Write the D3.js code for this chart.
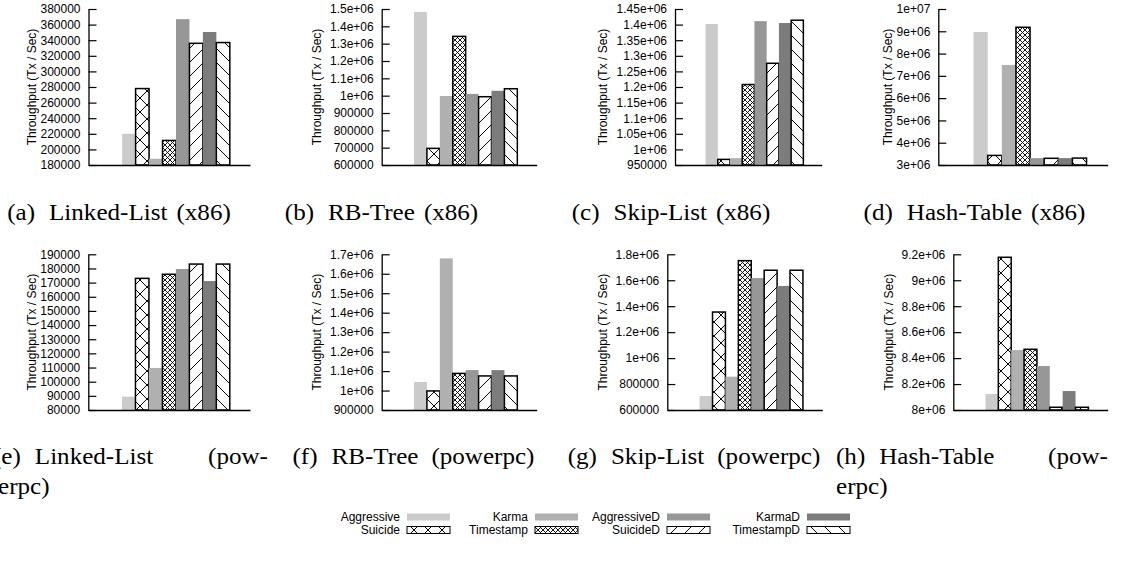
<!DOCTYPE html>
<html>
<head>
<meta charset="utf-8">
<script src="https://cdn.jsdelivr.net/npm/d3@7"></script>
<style>
  body { margin: 0; background: #fff; }
  svg { display: block; }
</style>
</head>
<body>
<script>
var series = ["Aggressive", "Suicide", "Karma", "Timestamp", "AggressiveD", "SuicideD", "KarmaD", "TimestampD"];

var linkedListX86 = [220000, 278000, 188000, 211500, 367000, 336000, 350500, 337000];
var rbTreeX86 = [1483000, 696000, 998000, 1342000, 1010000, 994000, 1028000, 1040000];
var skipListX86 = [1402000, 968000, 972000, 1208000, 1411000, 1276000, 1405000, 1414000];
var hashTableX86 = [8970000, 3430000, 7490000, 9180000, 3310000, 3300000, 3310000, 3310000];
var linkedListPpc = [89400, 173000, 109700, 175900, 179600, 183100, 171100, 183100];
var rbTreePpc = [1044000, 998000, 1679000, 1088000, 1105000, 1075000, 1105000, 1075000];
var skipListPpc = [708000, 1355000, 857000, 1751000, 1617000, 1677000, 1556000, 1677000];
var hashTablePpc = [8123000, 9177000, 8462000, 8468000, 8339000, 8021000, 8146000, 8021000];

var ticksA = ["180000", "200000", "220000", "240000", "260000", "280000", "300000", "320000", "340000", "360000", "380000"];
var ticksB = ["600000", "700000", "800000", "900000", "1e+06", "1.1e+06", "1.2e+06", "1.3e+06", "1.4e+06", "1.5e+06"];
var ticksC = ["950000", "1e+06", "1.05e+06", "1.1e+06", "1.15e+06", "1.2e+06", "1.25e+06", "1.3e+06", "1.35e+06", "1.4e+06", "1.45e+06"];
var ticksD = ["3e+06", "4e+06", "5e+06", "6e+06", "7e+06", "8e+06", "9e+06", "1e+07"];
var ticksE = ["80000", "90000", "100000", "110000", "120000", "130000", "140000", "150000", "160000", "170000", "180000", "190000"];
var ticksF = ["900000", "1e+06", "1.1e+06", "1.2e+06", "1.3e+06", "1.4e+06", "1.5e+06", "1.6e+06", "1.7e+06"];
var ticksG = ["600000", "800000", "1e+06", "1.2e+06", "1.4e+06", "1.6e+06", "1.8e+06"];
var ticksH = ["8e+06", "8.2e+06", "8.4e+06", "8.6e+06", "8.8e+06", "9e+06", "9.2e+06"];

var yTitle = "Throughput (Tx / Sec)";

var captionA = ["(a)", "Linked-List", "(x86)"];
var captionB = ["(b)", "RB-Tree", "(x86)"];
var captionC = ["(c)", "Skip-List", "(x86)"];
var captionD = ["(d)", "Hash-Table", "(x86)"];
var captionE = ["(e)", "Linked-List", "(pow-"];
var captionF = ["(f)", "RB-Tree", "(powerpc)"];
var captionG = ["(g)", "Skip-List", "(powerpc)"];
var captionH = ["(h)", "Hash-Table", "(pow-"];
var captionTail = "erpc)";

var panels = [
    { values: linkedListX86, ticks: ticksA },
    { values: rbTreeX86, ticks: ticksB },
    { values: skipListX86, ticks: ticksC },
    { values: hashTableX86, ticks: ticksD },
    { values: linkedListPpc, ticks: ticksE },
    { values: rbTreePpc, ticks: ticksF },
    { values: skipListPpc, ticks: ticksG },
    { values: hashTablePpc, ticks: ticksH }
];

var boxes = [
    { x0: 88.5, x1: 250, y0: 9, y1: 165, tx: 32 },
    { x0: 381.7, x1: 536.7, y0: 9, y1: 165, tx: 317 },
    { x0: 675, x1: 821.7, y0: 9, y1: 165, tx: 603 },
    { x0: 938.3, x1: 1107.7, y0: 9, y1: 165, tx: 888 },
    { x0: 88.3, x1: 250, y0: 254.3, y1: 410, tx: 32 },
    { x0: 381.7, x1: 536.7, y0: 254.3, y1: 410, tx: 317 },
    { x0: 667.3, x1: 822.3, y0: 254.3, y1: 410, tx: 603 },
    { x0: 953.3, x1: 1107.7, y0: 254.3, y1: 410, tx: 889 }
];

// caption lines: centred on cx, or justified between x0 and x1
var captionLines = [
    { words: captionA, cx: 119, y: 220, gap: 9 },
    { words: captionB, cx: 381.5, y: 220, gap: 9 },
    { words: captionC, cx: 671, y: 220, gap: 9 },
    { words: captionD, cx: 974.5, y: 220, gap: 9 },
    { words: captionE, x0: -7, x1: 268, y: 464 },
    { words: [captionTail], x0: -2, y: 494 },
    { words: captionF, cx: 413.5, y: 464, gap: 13 },
    { words: captionG, cx: 694, y: 464, gap: 13 },
    { words: captionH, x0: 836, x1: 1108, y: 464 },
    { words: [captionTail], x0: 836, y: 494 }
];

var fills = {
    Aggressive: "#cbcbcb",
    Suicide: "url(#pSuicide)",
    Karma: "#b0b0b0",
    Timestamp: "url(#pTimestamp)",
    AggressiveD: "#979797",
    SuicideD: "url(#pSuicideD)",
    KarmaD: "#7c7c7c",
    TimestampD: "url(#pTimestampD)"
};
var outlined = { Suicide: true, Timestamp: true, SuicideD: true, TimestampD: true };

var width = 1131, height = 569;

var svg = d3.select("body").append("svg")
    .attr("width", width)
    .attr("height", height);

var defs = svg.append("defs");

function hatch(id, size, paths, sw) {
    var p = defs.append("pattern")
        .attr("id", id)
        .attr("patternUnits", "userSpaceOnUse")
        .attr("width", size)
        .attr("height", size);
    p.append("rect").attr("width", size).attr("height", size).attr("fill", "#fff");
    paths.forEach(function (d) {
        p.append("path").attr("d", d).attr("stroke", "#000").attr("stroke-width", sw).attr("fill", "none");
    });
}
hatch("pSuicide", 14, ["M0,0L14,14", "M0,14L14,0", "M-1,1L1,-1", "M13,15L15,13", "M-1,13L1,15", "M13,-1L15,1"], 1);
hatch("pTimestamp", 5, ["M0,0L5,5", "M0,5L5,0"], 0.9);
hatch("pSuicideD", 14, ["M0,14L14,0", "M-1,1L1,-1", "M13,15L15,13"], 1);
hatch("pTimestampD", 14, ["M0,0L14,14", "M-1,13L1,15", "M13,-1L15,1"], 1);

var fontSans = "'Liberation Sans', Arial, sans-serif";
var fontSerif = "'Liberation Serif', 'Times New Roman', serif";

panels.forEach(function (panel, k) {
    var b = boxes[k];
    var tickVals = panel.ticks.map(Number);

    var x = d3.scaleLinear()
        .domain([-2.5, 9.5])
        .range([b.x0, b.x1]);

    var y = d3.scaleLinear()
        .domain([tickVals[0], tickVals[tickVals.length - 1]])
        .range([b.y1, b.y0]);

    var g = svg.append("g");

    g.selectAll(".bar")
        .data(panel.values)
        .enter().append("rect")
        .attr("class", "bar")
        .attr("x", function (d, i) { return x(i); })
        .attr("width", function (d, i) { return x(i + 1) - x(i); })
        .attr("y", function (d) { return y(d); })
        .attr("height", function (d) { return y(tickVals[0]) - y(d); })
        .attr("fill", function (d, i) { return fills[series[i]]; })
        .attr("stroke", function (d, i) { return outlined[series[i]] ? "#000" : "none"; })
        .attr("stroke-width", 1.5);

    var yAxis = d3.axisLeft(y)
        .tickValues(tickVals)
        .tickFormat(function (d, i) { return panel.ticks[i]; })
        .tickSizeInner(-8)
        .tickSizeOuter(0)
        .tickPadding(8);

    var ax = g.append("g")
        .attr("transform", "translate(" + b.x0 + ",0)")
        .call(yAxis);
    ax.select(".domain").attr("stroke-width", 1.3);
    ax.selectAll(".tick line").attr("stroke-width", 1.2);
    ax.selectAll("text")
        .attr("font-family", fontSans)
        .attr("font-size", 12)
        .attr("fill", "#000");

    var xAxis = d3.axisBottom(x).tickValues([]).tickSizeOuter(0);
    g.append("g")
        .attr("transform", "translate(0," + b.y1 + ")")
        .call(xAxis)
        .select(".domain").attr("stroke-width", 1.3);

    g.append("text")
        .attr("transform", "translate(" + b.tx + "," + (b.y0 + b.y1) / 2 + ") rotate(-90)")
        .attr("text-anchor", "middle")
        .attr("dy", "0.35em")
        .attr("font-family", fontSans)
        .attr("font-size", 12)
        .text(yTitle);
});

// captions are set word by word; the hyphenated lines are justified
// with a fixed gap after the label
var labelGap = 14;
captionLines.forEach(function (c) {
    var words = c.words.map(function (w) {
        var t = svg.append("text")
            .attr("y", c.y)
            .attr("font-family", fontSerif)
            .attr("font-size", 24)
            .text(w);
        var len = t.node().getComputedTextLength() * 1.045;
        t.attr("textLength", len).attr("lengthAdjust", "spacingAndGlyphs");
        return { t: t, len: len };
    });
    var total = d3.sum(words, function (d) { return d.len; });
    var gaps = words.map(function (d, i) { return i === 0 ? 0 : (i === 1 ? labelGap : c.gap); });
    var start;
    if (c.cx !== undefined) {
        start = c.cx - (total + d3.sum(gaps)) / 2;
    } else {
        start = c.x0;
        if (c.x1 !== undefined && words.length > 2) {
            gaps[2] = c.x1 - c.x0 - total - labelGap;
        }
    }
    var pos = start;
    words.forEach(function (d, i) {
        pos += gaps[i];
        d.t.attr("x", pos);
        pos += d.len;
    });
});

// legend: two rows, four columns
var legendCols = [400, 528, 660, 800];
var legendRows = [517, 530];

var legend = svg.append("g").selectAll("g")
    .data(series)
    .enter().append("g")
    .attr("transform", function (d, i) {
        return "translate(" + legendCols[Math.floor(i / 2)] + "," + legendRows[i % 2] + ")";
    });

legend.append("text")
    .attr("text-anchor", "end")
    .attr("dy", "0.35em")
    .attr("font-family", fontSans)
    .attr("font-size", 12)
    .text(function (d) { return d; });

legend.append("rect")
    .attr("x", 7)
    .attr("y", -3.5)
    .attr("width", 43)
    .attr("height", 7)
    .attr("fill", function (d) { return fills[d]; })
    .attr("stroke", function (d) { return outlined[d] ? "#000" : "none"; })
    .attr("stroke-width", 1);
</script>
</body>
</html>
